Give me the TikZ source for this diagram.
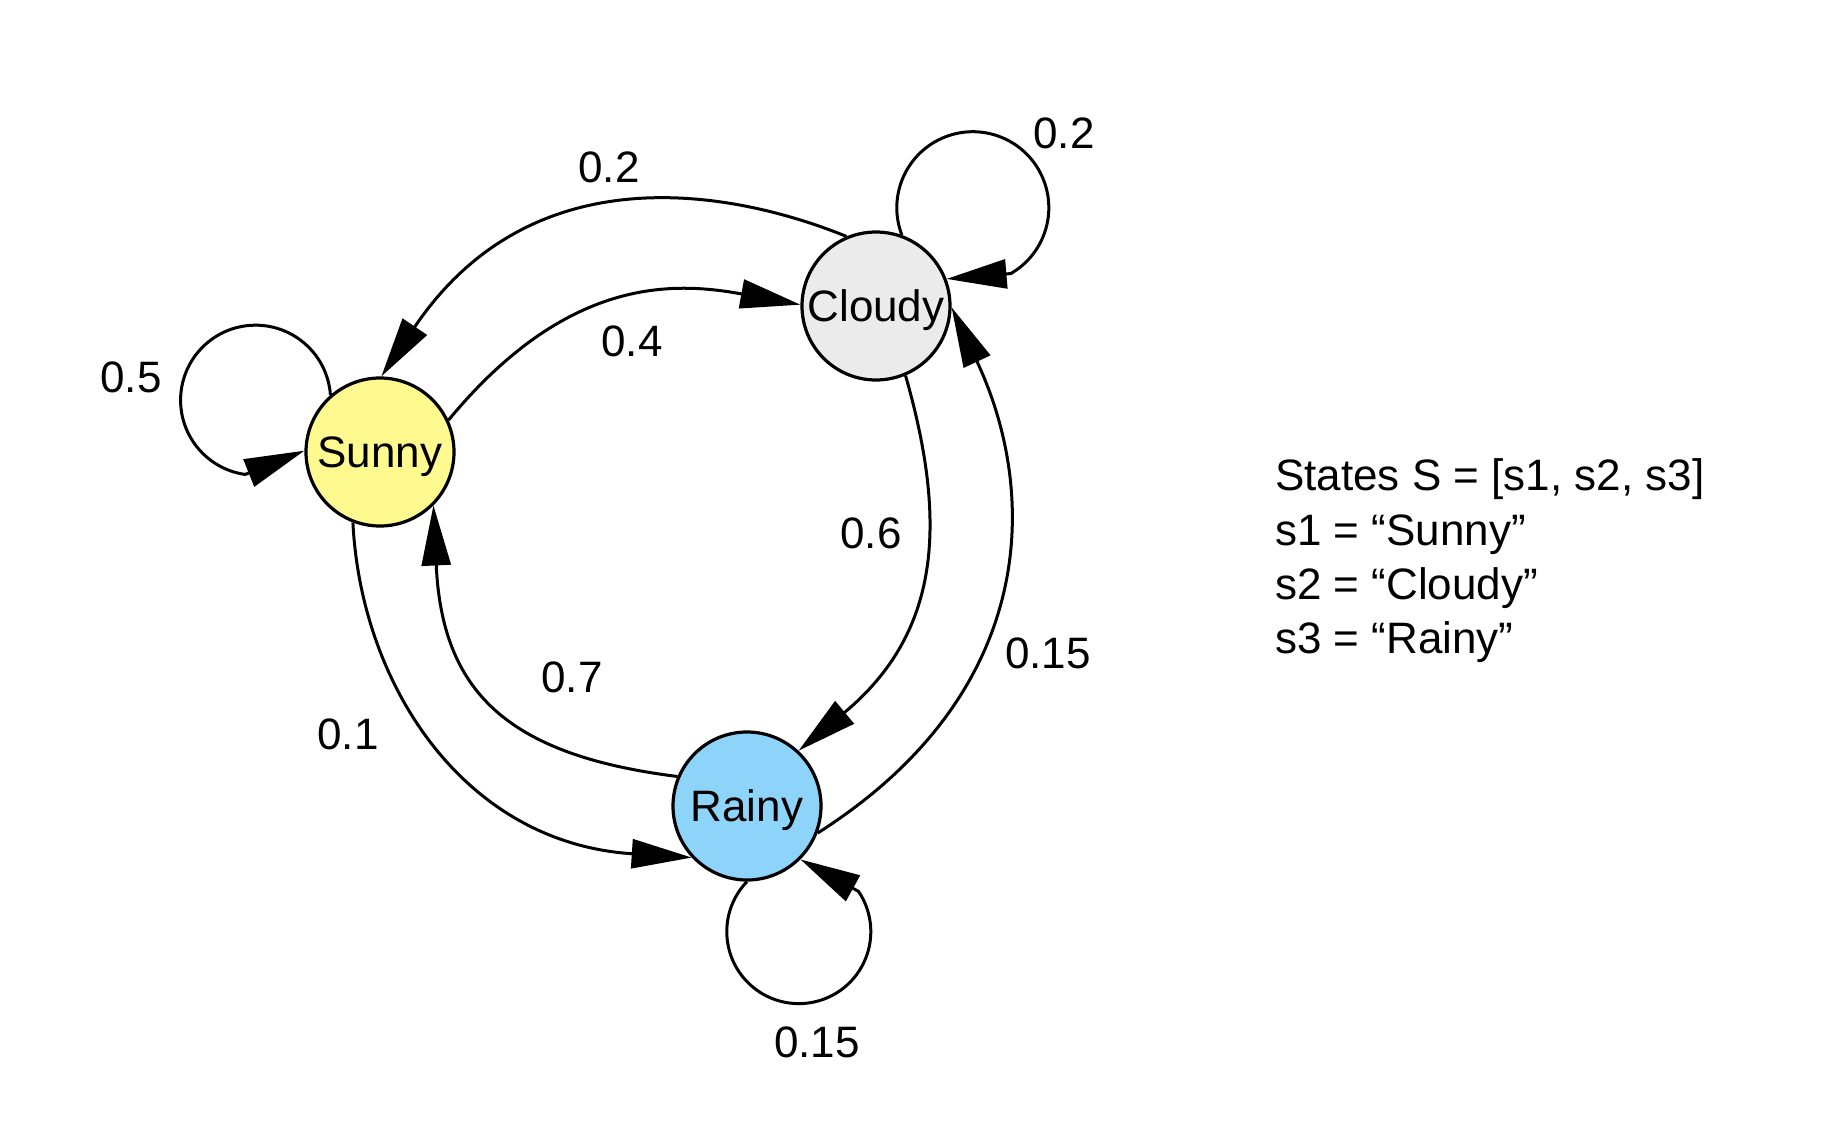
\documentclass[tikz,border=0pt]{standalone}
\usepackage{fontspec}
\setmainfont{Liberation Sans}
\usetikzlibrary{arrows.meta}
\definecolor{sunnyc}{HTML}{FFFA8F}
\definecolor{cloudyc}{HTML}{EBEBEB}
\definecolor{rainyc}{HTML}{8ED4FA}
\begin{document}
\begin{tikzpicture}[x=1pt,y=-1pt,
  state/.style={circle, draw=black, line width=3.2pt, minimum size=148pt, inner sep=0pt,
    font=\fontsize{44}{50}\selectfont, text height=31.5pt, text depth=0pt},
  edge/.style={line width=3pt, -{Triangle[length=60pt,width=29pt]}},
  lbl/.style={font=\fontsize{44}{50}\selectfont, inner sep=0pt},
  legend/.style={font=\fontsize{44}{50}\selectfont, inner sep=0pt, anchor=base west}]
\useasboundingbox[fill=white] (0,0) rectangle (1828,1126);

\node[state, fill=sunnyc]  (sunny)  at (380,452) {Sunny};
\node[state, fill=cloudyc] (cloudy) at (876,306) {Cloudy};
\node[state, fill=rainyc]  (rainy)  at (747,806) {Rainy};

% transitions between states
\draw[edge] (cloudy.113) .. controls (737,192) and (534,150) .. (sunny.89);
\draw[edge] (sunny.25) .. controls (566,278) and (671,281) .. (cloudy.179);
\draw[edge] (cloudy.293) .. controls (948,524) and (940,633) .. (rainy.47);
\draw[edge] (rainy.339) .. controls (1035,695) and (1041,498) .. (cloudy.359);
\draw[edge] (rainy.157) .. controls (505,755) and (442,690) .. (sunny.315);
\draw[edge] (sunny.249) .. controls (361,685) and (464,843) .. (rainy.223);

% self loops
\draw[edge] (sunny.131) arc[start angle=-4, end angle=-262, radius=75] -- (sunny.179);
\draw[edge] (cloudy.70) arc[start angle=159, end angle=420, radius=76] -- (cloudy.21);
\draw[edge] (rainy.270) arc[start angle=224, end angle=-34, radius=72] -- (rainy.315);

% labels
\node[lbl] (l1) at (609,167) {0.2};
\node[lbl] (l2) at (632,341) {0.4};
\node[lbl] (l3) at (1064,133) {0.2};
\node[lbl] (l4) at (131,377) {0.5};
\node[lbl] (l5) at (871,533) {0.6};
\node[lbl] (l6) at (1048,653) {0.15};
\node[lbl] (l7) at (572,677) {0.7};
\node[lbl] (l8) at (348,734) {0.1};
\node[lbl] (l9) at (817,1042) {0.15};

% legend
\node[legend] (g1) at (1275,490) {States S = [s1, s2, s3]};
\node[legend] (g2) at (1275,545) {s1 = “Sunny”};
\node[legend] (g3) at (1275,599) {s2 = “Cloudy”};
\node[legend] (g4) at (1275,653) {s3 = “Rainy”};
\end{tikzpicture}
\end{document}
